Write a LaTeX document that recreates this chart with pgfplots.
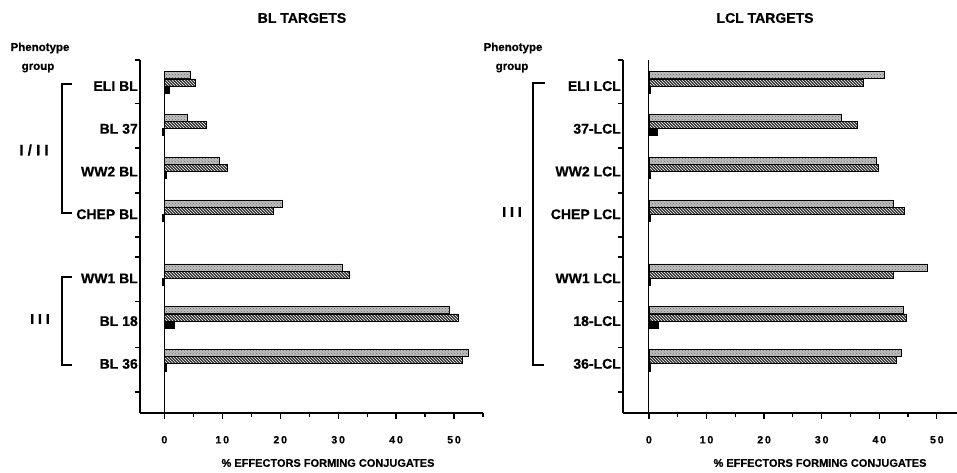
\documentclass[border=0pt]{standalone}
\usepackage{fontspec}
\setmainfont{Liberation Sans}[BoldFeatures={FakeBold=0.6}]
\usepackage{pgfplots}
\usepackage{pgfplotstable}
\pgfplotsset{compat=1.18}
\usetikzlibrary{patterns}

\pgfplotstableread{
y dot hatch solid
8 4.5 5.3 0.9
7 4.0 7.3 -0.3
6 9.5 10.8 0.3
5 20.3 18.8 -0.3
3.5 30.7 31.9 -0.3
2.5 49.1 50.7 1.7
1.5 52.4 51.4 0.3
}\BLdata

\pgfplotstableread{
y dot hatch solid
8 40.9 37.3 0.3
7 33.4 36.1 1.4
6 39.4 39.9 0.3
5 42.4 44.4 0.2
3.5 48.4 42.4 0.3
2.5 44.1 44.7 1.7
1.5 43.8 42.9 0.3
}\LCLdata

\pgfplotsset{
 panel/.style={
   scale only axis, height=353pt,
   ymin=0.35, ymax=8.61,
   axis x line*=bottom, axis y line*=left,
   axis line style={line width=1.3pt, -},
   xtick={0,10,...,50}, minor xtick={5,15,...,55},
   tick align=outside, major tick length=5.5pt, minor tick length=4pt,
   tick style={line width=1.2pt, black},
   xticklabel style={font=\fontsize{10.5}{12}\selectfont\addfontfeature{LetterSpace=18}, yshift=-14pt},
   ytick={8.61,7.60,6.55,5.50,4.47,4.0,2.95,1.89,0.84},
   yticklabels={},
   extra y ticks={8,7,6,5,3.5,2.5,1.5},
   extra y tick style={major tick length=0pt, tick style={draw=none},
     yticklabel style={font=\fontsize{14}{16}\selectfont, inner sep=2pt}},
   xbar, bar width=0.165,
   /pgf/number format/assume math mode=true,
   clip=false,
 },
 dotbar/.style={draw=black, line width=0.6pt, fill=gray!50,
   postaction={pattern=crosshatch dots, pattern color=black!60}, bar shift=0.255},
 hatchbar/.style={draw=black, line width=0.6pt, fill=black!82,
   postaction={pattern=north west lines, pattern color=white}, bar shift=0.085},
 solidbar/.style={draw=black, line width=0.6pt, fill=black, bar shift=-0.08},
}

\begin{document}
\bfseries
\begin{tikzpicture}
\useasboundingbox (0,0) rectangle (957pt,-472pt);
\begin{axis}[panel, at={(140pt,-413pt)}, anchor=south west, width=343pt,
  xmin=-4.2, xmax=55,
  extra y tick labels={ELI BL,BL 37,WW2 BL,CHEP BL,WW1 BL,BL 18,BL 36}]
\addplot[dotbar] table[x=dot,y=y]{\BLdata};
\addplot[hatchbar] table[x=hatch,y=y]{\BLdata};
\addplot[solidbar] table[x=solid,y=y]{\BLdata};
\addplot[sharp plot, black, line width=1pt, mark=none] coordinates {(0,8.35) (0,0.22)};
\end{axis}
\begin{axis}[panel, at={(623pt,-413pt)}, anchor=south west, width=334pt,
  xmin=-4.5, xmax=53.5,
  extra y tick labels={ELI LCL,37-LCL,WW2 LCL,CHEP LCL,WW1 LCL,18-LCL,36-LCL}]
\addplot[dotbar] table[x=dot,y=y]{\LCLdata};
\addplot[hatchbar] table[x=hatch,y=y]{\LCLdata};
\addplot[solidbar] table[x=solid,y=y]{\LCLdata};
\addplot[sharp plot, black, line width=1pt, mark=none] coordinates {(0,8.61) (0,0.22)};
\end{axis}

\node[font=\fontsize{14}{16}\selectfont] at (302pt,-18pt) {BL TARGETS};
\node[font=\fontsize{14}{16}\selectfont] at (765pt,-18pt) {LCL TARGETS};
\node[font=\fontsize{11.5}{13}\selectfont] at (40pt,-48pt) {Phenotype};
\node[font=\fontsize{11.5}{13}\selectfont] at (38pt,-68pt) {group};
\node[font=\fontsize{11.5}{13}\selectfont] at (513pt,-48pt) {Phenotype};
\node[font=\fontsize{11.5}{13}\selectfont] at (512pt,-68pt) {group};

\draw[line width=1.3pt] (72pt,-84pt) -- (62pt,-84pt) -- (62pt,-213pt) -- (72pt,-213pt);
\draw[line width=1.3pt] (72pt,-277pt) -- (62pt,-277pt) -- (62pt,-365pt) -- (72pt,-365pt);
\draw[line width=1.3pt] (545pt,-83pt) -- (533pt,-83pt) -- (533pt,-365pt) -- (544pt,-365pt);
\node[font=\fontsize{15}{17}\selectfont] at (34pt,-150pt) {I / I I};
\node[font=\fontsize{14}{16}\selectfont] at (40pt,-319pt) {I I I};
\node[font=\fontsize{14}{16}\selectfont] at (512pt,-212pt) {I I I};

\node[font=\fontsize{11}{13}\selectfont] at (328pt,-463pt) {\% EFFECTORS FORMING CONJUGATES};
\node[font=\fontsize{11}{13}\selectfont] at (820pt,-463pt) {\% EFFECTORS FORMING CONJUGATES};
\end{tikzpicture}
\end{document}
